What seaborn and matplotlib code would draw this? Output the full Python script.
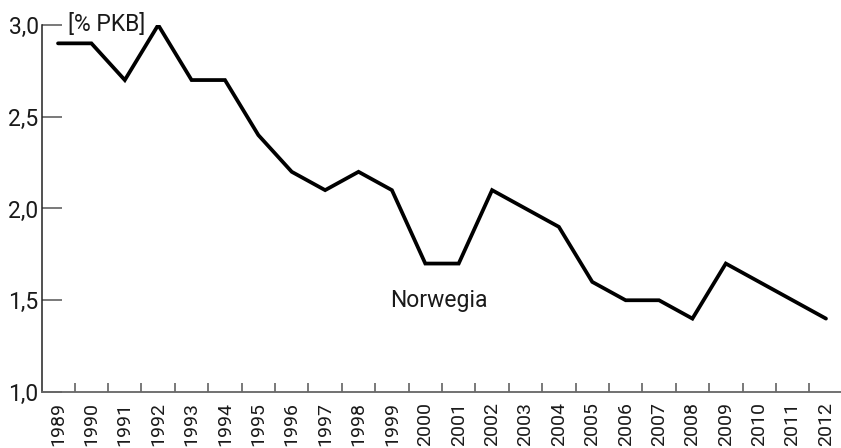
import matplotlib
matplotlib.use("Agg")
import matplotlib.pyplot as plt
import seaborn as sns
import pandas as pd
import numpy as np

years = [1989, 1990, 1991, 1992, 1993, 1994, 1995, 1996, 1997, 1998, 1999, 2000,
         2001, 2002, 2003, 2004, 2005, 2006, 2007, 2008, 2009, 2010, 2011, 2012]
values = [2.9, 2.9, 2.7, 3.0, 2.7, 2.7, 2.4, 2.2, 2.1, 2.2, 2.1, 1.7,
          1.7, 2.1, 2.0, 1.9, 1.6, 1.5, 1.5, 1.4, 1.7, 1.6, 1.5, 1.4]
y_ticks = [1.0, 1.5, 2.0, 2.5, 3.0]
y_labels = ["1,0", "1,5", "2,0", "2,5", "3,0"]
series_label = "Norwegia"
unit_label = "[% PKB]"

sns.set_theme(style="white")
plt.rcParams['font.family'] = ['Roboto', 'DejaVu Sans']

df = pd.DataFrame({"year": years, "value": values})

W, H = 841, 448
fig = plt.figure(figsize=(W / 100, H / 100), dpi=100)
ax = fig.add_axes([42 / W, 1 - 392 / H, (W - 42) / W, (392 - 25) / H])

sns.lineplot(data=df, x="year", y="value", ax=ax, color="black", linewidth=2.7,
             solid_joinstyle="miter")

ax.set_xlim(1988.52, 2012.45)
ax.set_ylim(1.0, 3.0)

ax.set_yticks(y_ticks)
ax.set_yticklabels(y_labels, fontsize=16.5, color="#1a1a1a")
ax.tick_params(axis="y", which="major", left=True, direction="in", length=14.5,
               width=1.1, color="#555555", pad=2.5)

ax.set_xticks(years)
ax.set_xticklabels([str(y) for y in years], rotation=90, fontsize=14, color="#1a1a1a")
ax.set_xticks([y + 0.5 for y in years[:-1]], minor=True)
ax.tick_params(axis="x", which="major", bottom=True, length=0, pad=7)
ax.tick_params(axis="x", which="minor", bottom=True, direction="in", length=6.5,
               width=1.1, color="#555555")

for s in ["top", "right"]:
    ax.spines[s].set_visible(False)
ax.spines["left"].set_color("#222222")
ax.spines["left"].set_linewidth(1.1)
ax.spines["bottom"].set_color("#666666")
ax.spines["bottom"].set_linewidth(1.3)

ax.set_xlabel("")
ax.set_ylabel("")
ax.grid(False)

ax.text(1989.3, 3.0, unit_label, fontsize=16.5, ha="left", va="center", color="#1a1a1a")
ax.text(2000.4, 1.5, series_label, fontsize=16.5, ha="center", va="center", color="#1a1a1a")

fig.savefig("out.png", dpi=100)
